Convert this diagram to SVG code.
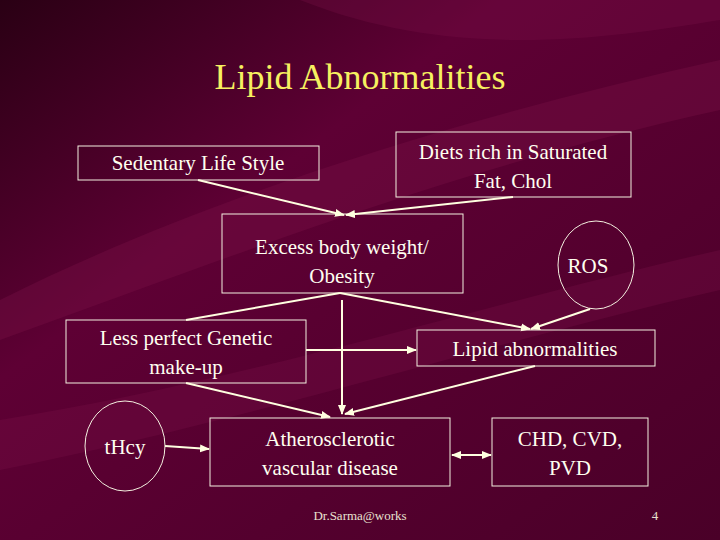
<svg xmlns="http://www.w3.org/2000/svg" width="720" height="540" viewBox="0 0 720 540">
<defs>
<linearGradient id="bg" x1="0" y1="0" x2="1" y2="1">
<stop offset="0" stop-color="#2a0014"/><stop offset="0.35" stop-color="#5e0034"/><stop offset="1" stop-color="#4a0028"/>
</linearGradient>
<marker id="ah" viewBox="0 0 10 10" refX="9" refY="5" markerWidth="5" markerHeight="5" orient="auto-start-reverse"><path d="M0,1 L10,5 L0,9 z" fill="#ffffe0"/></marker>
</defs>
<style>
.box{fill:none;stroke:#f4f0e0;stroke-width:1}
text{font-family:"Liberation Serif","Times New Roman","DejaVu Serif",serif}
.t{font-size:21px;fill:#fffff0;text-anchor:middle}
.c{stroke:#ffffe0;stroke-width:2;fill:none;marker-end:url(#ah)}
</style>
<rect width="720" height="540" fill="url(#bg)"/>
<path d="M0,300 C200,200 450,120 720,60 L720,110 C450,170 250,250 0,340 z" fill="#7a1048" opacity="0.35"/>
<path d="M0,420 C250,380 500,300 720,250 L720,290 C500,340 250,420 0,470 z" fill="#7a1048" opacity="0.3"/>
<path d="M300,0 C450,60 600,40 720,20 L720,0 z" fill="#7a1048" opacity="0.3"/>
<text x="360" y="89" font-family="Liberation Serif, serif" style="font-size:36px;fill:#f6f060;text-anchor:middle">Lipid Abnormalities</text>
<g id="sedentary"><rect class="box" x="78" y="146" width="241" height="34"/><text class="t" x="198" y="170">Sedentary Life Style</text></g>
<g id="diets"><rect class="box" x="396" y="132" width="235" height="65"/><text class="t" x="513" y="159">Diets rich in  Saturated</text><text class="t" x="513" y="188">Fat, Chol</text></g>
<g id="obesity"><rect class="box" x="222" y="214" width="241" height="79"/><text class="t" x="342" y="254">Excess body weight/</text><text class="t" x="342" y="283">Obesity</text></g>
<g id="ros"><ellipse class="box" cx="596" cy="265" rx="38" ry="44"/><text class="t" x="588" y="273">ROS</text></g>
<g id="genetic"><rect class="box" x="66" y="320" width="240" height="63"/><text class="t" x="186" y="345">Less perfect Genetic</text><text class="t" x="186" y="374">make-up</text></g>
<g id="lipid"><rect class="box" x="417" y="330" width="238" height="36"/><text class="t" x="535" y="356">Lipid abnormalities</text></g>
<g id="thcy"><ellipse class="box" cx="125" cy="446" rx="40" ry="45"/><text class="t" x="125" y="454">tHcy</text></g>
<g id="athero"><rect class="box" x="210" y="418" width="240" height="68"/><text class="t" x="330" y="446">Atherosclerotic</text><text class="t" x="330" y="475">vascular disease</text></g>
<g id="chd"><rect class="box" x="492" y="418" width="156" height="68"/><text class="t" x="570" y="446">CHD, CVD,</text><text class="t" x="570" y="475">PVD</text></g>
<text x="360" y="520" style="font-size:13px;fill:#e8e0d0;text-anchor:middle">Dr.Sarma@works</text>
<text x="655" y="520" style="font-size:13px;fill:#e8e0d0;text-anchor:middle">4</text>
<g id="connectors">
<line class="c" x1="198" y1="180" x2="344" y2="215"/>
<line class="c" x1="513" y1="197" x2="346" y2="215"/>
<line x1="186" y1="320" x2="340" y2="293" stroke="#ffffe0" stroke-width="2"/>
<line class="c" x1="340" y1="293" x2="530" y2="329"/>
<line class="c" x1="590" y1="309" x2="531" y2="329"/>
<line class="c" x1="342" y1="300" x2="342" y2="414"/>
<line class="c" x1="306" y1="350" x2="416" y2="350"/>
<line class="c" x1="186" y1="383" x2="330" y2="417"/>
<line class="c" x1="535" y1="366" x2="345" y2="414"/>
<line class="c" x1="165" y1="446" x2="209" y2="449"/>
<line class="c" x1="452" y1="455" x2="491" y2="455" style="marker-start:url(#ah)"/>
</g>
</svg>
